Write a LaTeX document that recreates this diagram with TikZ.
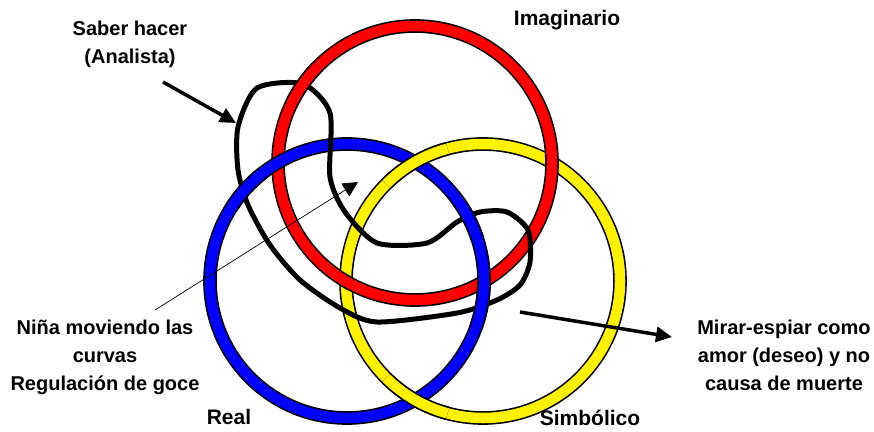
\documentclass[tikz,border=0pt]{standalone}
\usepackage{fontspec}
\setmainfont{Liberation Sans}
\usepackage{xcolor}
\usepackage{tikz}
\usetikzlibrary{arrows.meta, positioning}

\tikzset{
  ring/.style = {draw=black, line width=1.6pt, double distance=10.5pt},
  knot/.style = {draw=black, line width=5pt, line join=round},
  lbl/.style = {font=\bfseries\fontsize{20}{28}\selectfont, align=center, inner sep=0pt},
  ringlbl/.style = {font=\bfseries\fontsize{21}{25}\selectfont, inner sep=0pt},
  fat/.style = {line width=3.5pt, -{Triangle[length=16pt,width=15pt]}},
  thin/.style = {line width=0.7pt, -{Triangle[length=15pt,width=15pt]}},
}

\begin{document}
\begin{tikzpicture}[x=1pt, y=-1pt]
            \useasboundingbox (0,0) rectangle (874,431);

            \coordinate (I) at (415,163); %Imaginario
            \coordinate (R) at (347,281); %Real
            \coordinate (S) at (483,281); %Simbolico

            % rings: red over yellow, blue over red
            \draw[ring, double=yellow] (S) circle [radius=137pt];
            \draw[ring, double=red] (I) circle [radius=137pt];
            \draw[ring, double=blue] (R) circle [radius=137pt];
            % yellow over blue
            \draw[ring, double=yellow] (S) ++(105:137pt) arc[start angle=105, end angle=135, radius=137pt];
            \draw[ring, double=yellow] (S) ++(225:137pt) arc[start angle=225, end angle=255, radius=137pt];

            % the curve
            \draw[knot] plot[smooth cycle, tension=0.45] coordinates {(238,127) (257,88) (303,84) (330,113) (330,177) (345,212) (377,243) (427,243) (457,222) (480,212) (507,212) (528,230) (530,262) (520,285) (497,300) (457,313) (377,322) (340,308) (300,280) (270,245) (248,205) (238,170)};

            % rings passing over the curve
            \draw[ring, double=red] (I) ++(135:137pt) arc[start angle=135, end angle=155, radius=137pt];
            \draw[ring, double=blue] (R) ++(128:137pt) arc[start angle=128, end angle=148, radius=137pt];
            \draw[ring, double=blue] (R) ++(18:137pt) arc[start angle=18, end angle=38, radius=137pt];
            \draw[ring, double=blue] (R) ++(-20:137pt) arc[start angle=-20, end angle=0, radius=137pt];

            \node (saber) [lbl] at (130,44) {Saber hacer\\(Analista)};
            \node (imag) [ringlbl] at (567,20) {Imaginario};
            \node (real) [ringlbl] at (229,417) {Real};
            \node (simb) [ringlbl] at (590,418) {Simbólico};
            \node (nina) [lbl] at (105,357) {Niña moviendo las\\curvas\\Regulación de goce};
            \node (mirar) [lbl] at (784,355) {Mirar-espiar como\\amor (deseo) y no\\causa de muerte};

            \coordinate (saberA) at (163,82);
            \coordinate (saberB) at (236,123);
            \coordinate (ninaA) at (155,310);
            \coordinate (ninaB) at (358,182);
            \coordinate (mirarA) at (520,312);
            \coordinate (mirarB) at (672,337);

            \draw[fat] (saberA) -- (saberB);
            \draw[thin] (ninaA) -- (ninaB);
            \draw[fat] (mirarA) -- (mirarB);
\end{tikzpicture}
\end{document}
